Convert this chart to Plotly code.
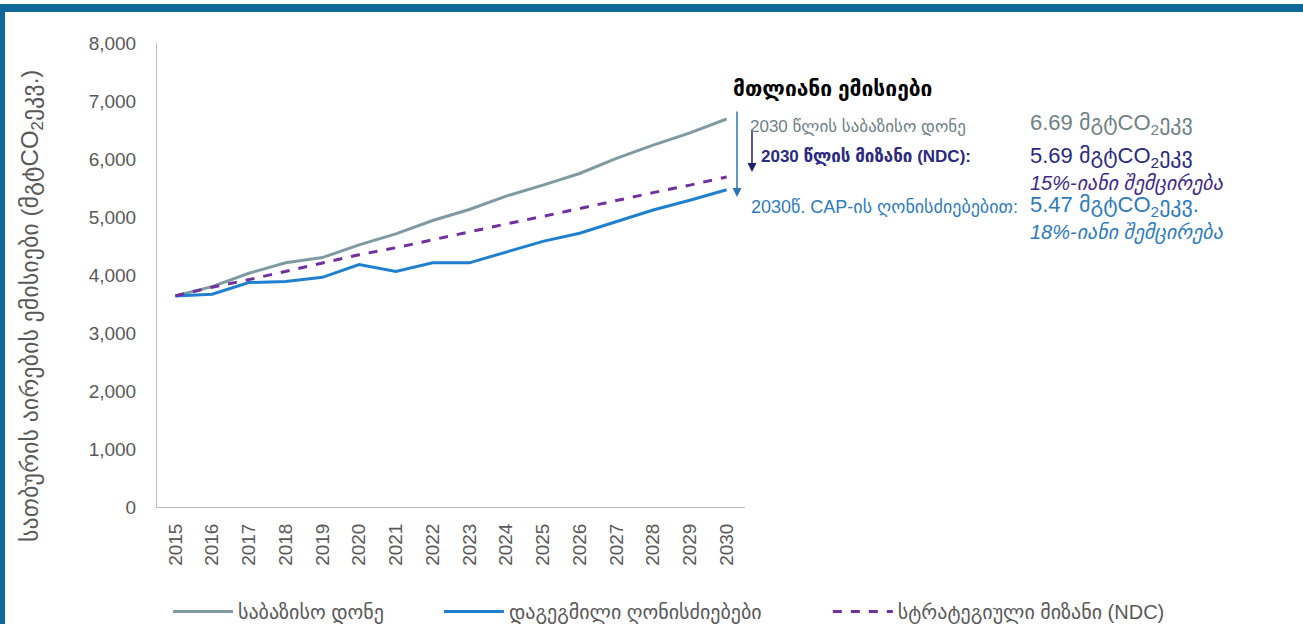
import plotly.graph_objects as go

# data (ktCO2eq)
years = [str(y) for y in range(2015, 2031)]
baseline = [3640, 3800, 4030, 4210, 4300, 4520, 4710, 4940, 5130, 5360, 5550, 5750, 6010, 6240, 6450, 6690]
planned = [3640, 3670, 3870, 3890, 3960, 4180, 4060, 4210, 4210, 4400, 4580, 4720, 4920, 5120, 5290, 5470]
ndc_target = [3640, 3790, 3920, 4060, 4200, 4350, 4470, 4610, 4740, 4880, 5010, 5150, 5280, 5420, 5550, 5690]

series_names = ["საბაზისო დონე", "დაგეგმილი ღონისძიებები", "სტრატეგიული მიზანი (NDC)"]
y_title = "სათბურის აირების ემისიები (მგტCO<sub>2</sub>ეკვ.)"

W, H = 1303, 624
L, R, T, B = 157, 745, 43, 507


def px_x(p):
    return (p - L) / (R - L)


def px_y(p):
    return (B - p) / (B - T)


FONT = "Liberation Sans, Arial, DejaVu Sans, sans-serif"
GRAY_TXT = "#595959"
C_BASE = "#7F9BA1"
C_PLAN = "#1F80D0"
C_NDC = "#7030A0"
NAVY = "#2B2A80"
BLUE_TXT = "#2E7BBE"
NBSP = "\u00a0"

# spacing between the legend entries, as in the reference
legend_names = [series_names[0] + NBSP * 9, series_names[1] + NBSP * 11, series_names[2]]

fig = go.Figure()
fig.add_trace(go.Scatter(x=years, y=baseline, name=legend_names[0], mode="lines",
                         line=dict(color=C_BASE, width=3)))
fig.add_trace(go.Scatter(x=years, y=planned, name=legend_names[1], mode="lines",
                         line=dict(color=C_PLAN, width=3)))
fig.add_trace(go.Scatter(x=years, y=ndc_target, name=legend_names[2], mode="lines",
                         line=dict(color=C_NDC, width=3, dash="dash")))

ann = []


def text(x, y, s, color, size, anchor="left", angle=0):
    ann.append(dict(x=px_x(x), y=px_y(y), xref="paper", yref="paper", text=s,
                    showarrow=False, xanchor=anchor, yanchor="middle", textangle=angle,
                    font=dict(family=FONT, size=size, color=color)))


def arrow(x, y_head, y_tail, color, width):
    ann.append(dict(x=px_x(x), y=px_y(y_head), xref="paper", yref="paper", text="",
                    showarrow=True, ax=0, ay=y_tail - y_head, arrowhead=2,
                    arrowsize=1.2, arrowwidth=width, arrowcolor=color))


# y axis title, placed like the reference
text(31, 306, y_title, GRAY_TXT, 24, anchor="center", angle=-90)

text(731, 89, "<b>მთლიანი ემისიები</b>", "#000000", 21)
arrow(737, 197, 110, "#2E75B6", 1.5)
arrow(752, 172, 128, "#1F1F70", 1.5)
text(748, 127, "2030 წლის საბაზისო დონე", "#6F8185", 17)
text(1028, 124, "6.69 მგტCO<sub>2</sub>ეკვ", "#6F8185", 22)
text(759, 156, "<b>2030 წლის მიზანი (NDC):</b>", NAVY, 17)
text(1028, 157, "5.69 მგტCO<sub>2</sub>ეკვ", NAVY, 22)
text(1028, 183, "<i>15%-იანი შემცირება</i>", "#40288A", 20)
text(749, 207, "2030წ. CAP-ის ღონისძიებებით:", BLUE_TXT, 18)
text(1028, 206, "5.47 მგტCO<sub>2</sub>ეკვ.", BLUE_TXT, 22)
text(1028, 232, "<i>18%-იანი შემცირება</i>", BLUE_TXT, 20)

border = "#0E6699"
shapes = [
    dict(type="rect", xref="paper", yref="paper", x0=px_x(0), x1=px_x(W), y0=px_y(12), y1=px_y(4),
         fillcolor=border, line=dict(width=0), layer="above"),
    dict(type="rect", xref="paper", yref="paper", x0=px_x(0), x1=px_x(5), y0=px_y(H), y1=px_y(4),
         fillcolor=border, line=dict(width=0), layer="above"),
]

fig.update_layout(
    width=W, height=H,
    margin=dict(l=L, r=W - R, t=T, b=H - B, pad=0, autoexpand=False),
    paper_bgcolor="white", plot_bgcolor="white",
    font=dict(family=FONT, color=GRAY_TXT),
    showlegend=True,
    legend=dict(orientation="h", xref="paper", yref="paper",
                x=px_x(1170), y=px_y(592), xanchor="right", yanchor="top",
                font=dict(size=20, color=GRAY_TXT), itemwidth=60),
    annotations=ann,
    shapes=shapes,
    xaxis=dict(type="category", range=[-0.5, 15.5], showgrid=False, showline=True,
               linecolor="#BFBFBF", linewidth=1, tickangle=-90, ticks="",
               tickfont=dict(size=19, color=GRAY_TXT), ticklabelstandoff=8),
    yaxis=dict(range=[0, 8000], dtick=1000, tickformat=",", showgrid=False, showline=True,
               linecolor="#BFBFBF", linewidth=1, ticks="", ticklabelstandoff=16,
               tickfont=dict(size=19, color=GRAY_TXT)),
)

fig.write_html("out.html", config={"displayModeBar": False},
               post_script="document.body.style.margin='0';")
